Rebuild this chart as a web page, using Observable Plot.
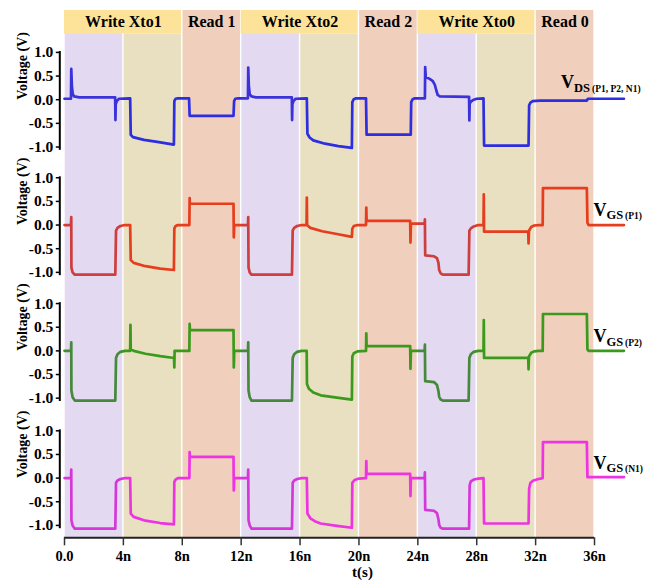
<!DOCTYPE html>
<html>
<head>
<meta charset="utf-8">
<script src="https://cdn.jsdelivr.net/npm/d3@7"></script>
<script src="https://cdn.jsdelivr.net/npm/@observablehq/plot@0.6"></script>
<style>
  body { margin: 0; background: #fff; }
  #chart svg, #chart svg text { font-family: "Liberation Serif", "Times New Roman", serif !important; font-weight: bold; }
</style>
</head>
<body>
<div id="chart"></div>
<script>
// Time in ns, voltage in V
const vdsWave = [
  [0, 0.02], [0.44, 0.02], [0.46, 0.65], [0.5, 0.3], [0.56, 0.12], [0.65, 0.07], [1.0, 0.05], [3.44, 0.05],
  [3.46, -0.43], [3.48, -0.1], [3.55, -0.03], [3.7, 0.02], [4.46, 0.03],
  [4.5, -0.74], [4.65, -0.79], [5.4, -0.85], [6.3, -0.89], [7.43, -0.95],
  [7.46, -0.03], [7.55, 0.02], [7.7, 0.03], [8.46, 0.03],
  [8.5, -0.34], [11.48, -0.34], [11.52, -0.03], [11.6, 0.02], [11.8, 0.03], [12.46, 0.03],
  [12.48, 0.68], [12.52, 0.3], [12.58, 0.12], [12.7, 0.07], [13.0, 0.05], [15.44, 0.05],
  [15.46, -0.43], [15.48, -0.1], [15.55, -0.03], [15.7, 0.02], [16.46, 0.03],
  [16.5, -0.72], [16.65, -0.8], [16.9, -0.86], [17.7, -0.93], [18.6, -0.98], [19.52, -1.02],
  [19.55, -0.05], [19.65, 0.01], [19.8, 0.03], [20.48, 0.03],
  [20.52, -0.74], [23.52, -0.74], [23.55, -0.05], [23.65, 0.01], [23.8, 0.03], [24.48, 0.03],
  [24.5, 0.69], [24.54, 0.48], [24.8, 0.44], [25.0, 0.4], [25.15, 0.32], [25.25, 0.2], [25.35, 0.1], [25.5, 0.07], [27.48, 0.06],
  [27.5, -0.44], [27.52, -0.09], [27.6, -0.04], [27.8, 0.0], [28.0, 0.02], [28.46, 0.03],
  [28.5, -0.97], [31.52, -0.97], [31.56, -0.12], [31.65, -0.06], [31.8, -0.03], [32.3, -0.02],
  [35.48, -0.02], [35.55, 0.02], [38, 0.02]
];

const vgsP1Wave = [
  [0, 0.0], [0.44, 0.0], [0.46, 0.17], [0.47, -0.9], [0.55, -1.0], [0.7, -1.05], [3.45, -1.05],
  [3.5, -0.12], [3.6, -0.06], [3.8, -0.02], [4.1, 0.0], [4.46, 0.0],
  [4.5, -0.74], [4.7, -0.8], [5.5, -0.87], [6.5, -0.92], [7.43, -0.95],
  [7.46, -0.07], [7.55, -0.02], [7.7, 0.0], [8.48, 0.0],
  [8.5, 0.57], [8.52, 0.45], [11.48, 0.45], [11.5, -0.26], [11.53, 0.0], [12.46, 0.0],
  [12.48, 0.17], [12.5, -0.9], [12.58, -1.0], [12.7, -1.05], [15.45, -1.05],
  [15.5, -0.12], [15.6, -0.06], [15.8, -0.02], [16.1, 0.0], [16.44, 0.0],
  [16.46, 0.58], [16.48, 0.0], [16.7, -0.06], [17.5, -0.13], [18.5, -0.19], [19.52, -0.25],
  [19.55, -0.08], [19.65, -0.02], [19.9, 0.0], [20.48, 0.0],
  [20.5, 0.37], [20.52, 0.09], [23.48, 0.09], [23.5, -0.37], [23.53, 0.03], [24.46, 0.03],
  [24.48, 0.12], [24.5, -0.64], [25.1, -0.66], [25.3, -0.7], [25.4, -0.8], [25.45, -0.95], [25.55, -1.02], [25.7, -1.05], [27.45, -1.05],
  [27.5, -0.12], [27.6, -0.07], [27.8, -0.03], [28.1, 0.0], [28.46, 0.0],
  [28.48, 0.65], [28.5, -0.14], [31.5, -0.14], [31.52, -0.39], [31.55, -0.12], [31.7, -0.04], [31.9, -0.01], [32.2, 0.0], [32.48, 0.0],
  [32.5, 0.78], [35.48, 0.78], [35.52, 0.05], [35.6, 0.0], [38, 0.0]
];

const vgsP2Wave = [
  [0, 0.0], [0.44, 0.0], [0.46, 0.18], [0.47, -0.84], [0.55, -0.98], [0.7, -1.05], [3.45, -1.05],
  [3.5, -0.15], [3.6, -0.07], [3.8, -0.02], [4.1, 0.0], [4.46, 0.0],
  [4.48, 0.55], [4.5, 0.04], [4.7, 0.0], [5.5, -0.06], [6.5, -0.11], [7.44, -0.15],
  [7.46, -0.35], [7.48, 0.0], [8.48, 0.0],
  [8.5, 0.57], [8.52, 0.44], [11.48, 0.44], [11.5, -0.35], [11.53, 0.0], [12.46, 0.0],
  [12.48, 0.18], [12.5, -0.84], [12.58, -0.98], [12.7, -1.05], [15.45, -1.05],
  [15.5, -0.15], [15.6, -0.07], [15.8, -0.02], [16.1, 0.0], [16.45, 0.0],
  [16.47, -0.7], [16.6, -0.8], [16.9, -0.88], [17.4, -0.94], [18.5, -0.99], [19.52, -1.03],
  [19.55, -0.12], [19.65, -0.05], [19.9, -0.01], [20.48, 0.0],
  [20.5, 0.37], [20.52, 0.1], [23.48, 0.1], [23.5, -0.38], [23.53, 0.0], [24.46, 0.0],
  [24.48, 0.13], [24.5, -0.64], [25.1, -0.66], [25.3, -0.72], [25.4, -0.85], [25.45, -0.97], [25.55, -1.03], [25.7, -1.05], [27.45, -1.05],
  [27.5, -0.15], [27.6, -0.07], [27.8, -0.02], [28.1, 0.0], [28.46, 0.0],
  [28.48, 0.65], [28.5, -0.15], [31.5, -0.15], [31.52, -0.39], [31.55, -0.12], [31.7, -0.04], [31.9, -0.01], [32.2, 0.0], [32.48, 0.0],
  [32.5, 0.78], [35.48, 0.78], [35.52, 0.03], [35.6, 0.0], [38, 0.0]
];

const vgsN1Wave = [
  [0, 0.0], [0.44, 0.0], [0.46, 0.18], [0.47, -0.89], [0.55, -1.0], [0.7, -1.07], [3.45, -1.07],
  [3.5, -0.1], [3.6, -0.05], [3.8, -0.02], [4.1, 0.0], [4.46, 0.0],
  [4.5, -0.75], [4.7, -0.82], [5.5, -0.9], [6.5, -0.95], [7.43, -0.98],
  [7.46, -0.08], [7.55, -0.03], [7.7, 0.0], [8.48, 0.0],
  [8.5, 0.55], [8.52, 0.45], [11.48, 0.45], [11.5, -0.26], [11.53, 0.0], [12.46, 0.0],
  [12.48, 0.18], [12.5, -0.89], [12.58, -1.0], [12.7, -1.07], [15.45, -1.07],
  [15.5, -0.1], [15.6, -0.05], [15.8, -0.02], [16.1, 0.0], [16.46, 0.0],
  [16.5, -0.75], [16.7, -0.85], [17.0, -0.91], [17.4, -0.96], [18.5, -1.01], [19.52, -1.05],
  [19.55, -0.1], [19.7, -0.04], [20.0, -0.01], [20.48, 0.0],
  [20.5, 0.36], [20.52, 0.09], [23.48, 0.09], [23.5, -0.38], [23.53, 0.0], [24.46, 0.0],
  [24.48, 0.12], [24.5, -0.67], [25.1, -0.69], [25.3, -0.74], [25.4, -0.87], [25.45, -0.99], [25.55, -1.05], [25.7, -1.07], [27.48, -1.07],
  [27.52, -0.15], [27.6, -0.07], [27.8, -0.03], [28.1, -0.01], [28.46, 0.0],
  [28.5, -0.96], [31.52, -0.96], [31.56, -0.22], [31.65, -0.1], [31.85, -0.05], [32.2, -0.02], [32.48, 0.0],
  [32.5, 0.76], [35.48, 0.76], [35.52, 0.02], [38, 0.02]
];

// Operation phases (ns)
const phaseStart = [0, 4, 8, 12, 16, 20, 24, 28, 32];
const phaseEnd   = [4, 8, 12, 16, 20, 24, 28, 32, 36];
const phaseKind  = ["write-a", "write-b", "read", "write-a", "write-b", "read", "write-a", "write-b", "read"];

const headerNames = ["Write Xto1", "Read 1", "Write Xto2", "Read 2", "Write Xto0", "Read 0"];
const headerStart = [0, 8, 12, 20, 24, 32];
const headerEnd   = [8, 12, 20, 24, 32, 36];

const yTickValues = [1, 0.5, 0, -0.5, -1];
const yTickLabels = ["1.0", "0.5", "0.0", "-0.5", "-1.0"];
const xTickValues = [0, 4, 8, 12, 16, 20, 24, 28, 32, 36];
const xTickLabels = ["0.0", "4n", "8n", "12n", "16n", "20n", "24n", "28n", "32n", "36n"];

const signalMain = ["V", "V", "V", "V"];
const signalSub = ["DS", "GS", "GS", "GS"];
const signalDevice = ["(P1, P2, N1)", "(P1)", "(P2)", "(N1)"];

// ---- layout & styling ----
const waves = [vdsWave, vgsP1Wave, vgsP2Wave, vgsN1Wave];
const colors = ["#2d2de2", "#e53d1d", "#3b9a1c", "#ee34e2"];
const panelOffset = [0, -2.65, -5.31, -8.0];   // stacked panels share one y scale
const yTop = 1.886, yHeadBottom = 1.39, yBottom = -9.262;
const labelT = [33.76, 35.96, 35.96, 35.96];
const labelLift = [0.233, 0.19, 0.175, 0.186];
const fillFor = {"write-b": "#e8e0c1", "read": "#f0cfbc"};
const font = "Liberation Serif";

const phases = phaseStart.map((s, i) => ({s, e: phaseEnd[i], kind: phaseKind[i]}));
const headers = headerNames.map((name, i) => ({name, s: headerStart[i], e: headerEnd[i]}));

const yPositions = [];
const yLabelAt = new Map();
panelOffset.forEach(off => yTickValues.forEach((v, i) => {
  const p = v + off;
  yPositions.push(p);
  yLabelAt.set(p, yTickLabels[i]);
}));
const xLabelAt = new Map(xTickValues.map((v, i) => [v, xTickLabels[i]]));

const lineMarks = waves.map((w, k) => Plot.line(w, {
  x: d => d[0], y: d => d[1] + panelOffset[k],
  stroke: colors[k], strokeWidth: 2.7, strokeLinejoin: "round", strokeLinecap: "round"
}));

const plot = Plot.plot({
  width: 652, height: 588,
  marginLeft: 64, marginRight: 58, marginTop: 10, marginBottom: 50.7,
  x: {domain: [0, 36], axis: null},
  y: {domain: [yBottom, yTop], axis: null},
  style: {fontFamily: font, fontWeight: "bold", background: "#fff", color: "#000"},
  marks: [
    // shaded olive / salmon columns
    Plot.rect(phases.filter(p => p.kind !== "write-a"), {
      x1: "s", x2: "e", y1: yBottom,
      y2: p => p.kind === "read" ? yTop : yHeadBottom,
      fill: p => fillFor[p.kind], insetLeft: 0.7, insetRight: 0.7
    }),
    // header boxes over the write phases
    Plot.rect(headers.filter(h => h.name.startsWith("Write")), {
      x1: "s", x2: "e", y1: yHeadBottom, y2: yTop, fill: "#fde399", insetRight: 0.7
    }),
    ...lineMarks,
    // translucent lavender over the first half of each write phase
    Plot.rect(phases.filter(p => p.kind === "write-a"), {
      x1: "s", x2: "e", y1: yBottom, y2: yHeadBottom,
      fill: "#7346b9", fillOpacity: 0.2, insetLeft: 0.7, insetRight: 0.7
    }),
    Plot.text(headers, {
      x: h => (h.s + h.e) / 2, y: (yHeadBottom + yTop) / 2, text: "name",
      fontSize: 16, fontFamily: font, fill: "#000"
    }),
    // y axes, one per panel
    Plot.ruleX(panelOffset, {x: 0, y1: d => d - 1.07, y2: d => d + 1.02, dx: -4.7, stroke: "#000", strokeWidth: 2}),
    Plot.axisY(yPositions, {
      anchor: "left", tickFormat: d => yLabelAt.get(d), tickSize: 3.5, tickPadding: 3,
      dx: -4.7, fontSize: 15.5, fontFamily: font, strokeWidth: 1.5, stroke: "#000", fill: "#000"
    }),
    Plot.text(panelOffset, {
      frameAnchor: "left", y: d => d, text: () => "Voltage (V)",
      rotate: -90, dx: -42, fontSize: 14, fontFamily: font, fill: "#000"
    }),
    // x axis
    Plot.ruleY([yBottom], {x1: 0, x2: 36, stroke: "#222", strokeWidth: 2}),
    Plot.axisX(xTickValues, {
      anchor: "bottom", tickFormat: d => xLabelAt.get(d), tickSize: 8, tickPadding: 5,
      fontSize: 14.5, fontFamily: font, strokeWidth: 1.5, stroke: "#333", fill: "#000"
    }),
    Plot.text(["t(s)"], {frameAnchor: "bottom", dx: 33, dy: 39, fontSize: 15, fontFamily: font, fill: "#000"})
  ]
});

// Signal names with subscripts, placed through the plot's scales
const sx = plot.scale("x"), sy = plot.scale("y");
const g = d3.select(plot).append("g")
  .attr("font-family", font).attr("font-weight", "bold")
  .attr("text-anchor", "start").attr("fill", "#000");
panelOffset.forEach((off, k) => {
  const t = g.append("text")
    .attr("x", sx.apply(labelT[k]))
    .attr("y", sy.apply(off + labelLift[k]));
  t.append("tspan").attr("font-size", 18).text(signalMain[k]);
  t.append("tspan").attr("font-size", 12.5).attr("dy", 3.5).text(signalSub[k]);
  t.append("tspan").attr("font-size", 9.5).attr("dx", 2).text(signalDevice[k]);
});

d3.select(plot).selectAll("text").attr("font-family", font);
document.getElementById("chart").appendChild(plot);
</script>
</body>
</html>
